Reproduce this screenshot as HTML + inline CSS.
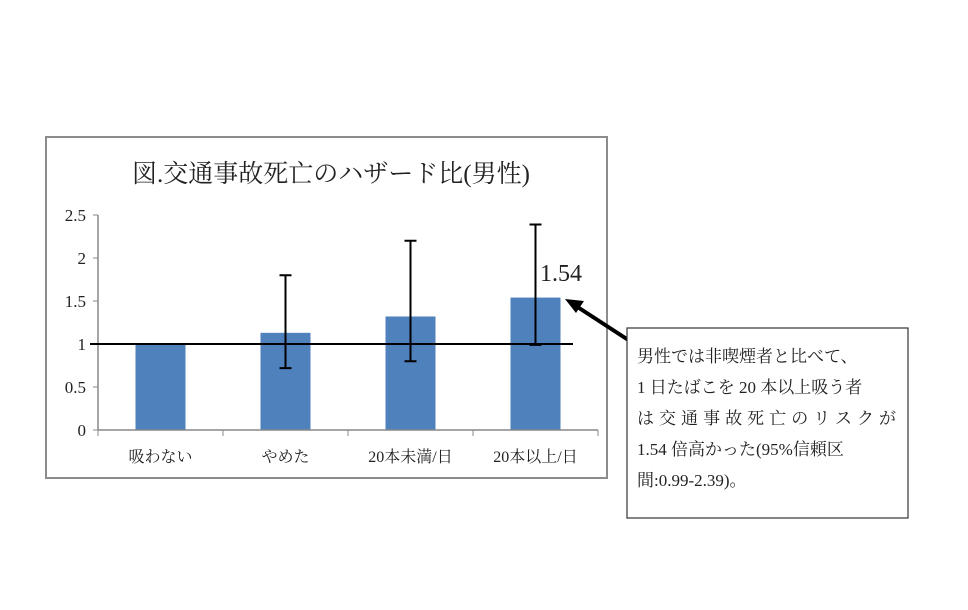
<!DOCTYPE html>
<html><head><meta charset="utf-8"><style>
body{margin:0;background:#fff;width:968px;height:605px;overflow:hidden}
svg text{font-family:"Liberation Serif","Noto Serif CJK SC","Noto Sans CJK JP",serif;fill:#222}
</style></head><body>
<svg width="968" height="605">
<rect x="46" y="137" width="561" height="341" fill="#fff" stroke="#8c8c8c" stroke-width="2"/>
<text x="331" y="182" font-size="25" text-anchor="middle">図.交通事故死亡のハザード比(男性)</text>
<g id="plot"></g>
<text x="540" y="281" font-size="24">1.54</text>
<line x1="636" y1="345" x2="576" y2="306" stroke="#000" stroke-width="4"/>
<polygon points="565,299 584,301 576,313" fill="#000"/>
<rect x="627" y="328" width="281" height="190" fill="#fff" stroke="#333" stroke-width="1.2"/>
<g font-size="17">
<text x="637" y="362">男性では非喫煙者と比べて、</text>
<text x="637" y="393">1 日たばこを 20 本以上吸う者</text>
<text x="637" y="424" textLength="259">は交通事故死亡のリスクが</text>
<text x="637" y="455">1.54  倍高かった(95%信頼区</text>
<text x="637" y="486">間:0.99-2.39)。</text>
</g>
</svg>
<script>
const categories=["吸わない","やめた","20本未満/日","20本以上/日"];
const values=[1,1.13,1.32,1.54];
const errLow=[null,0.72,0.80,0.99];
const errHigh=[null,1.80,2.20,2.39];
const yTicks=[0,0.5,1,1.5,2,2.5];
const refValue=1;
const X0=98,X1=598,Y0=430,YTOP=215,YMAX=2.5;
const y=v=>Y0-(v/YMAX)*(Y0-YTOP);
const bw=(X1-X0)/categories.length;
const xc=i=>X0+bw*(i+0.5);
const g=document.getElementById('plot');
const NS="http://www.w3.org/2000/svg";
function mk(t,a){const e=document.createElementNS(NS,t);for(const k in a)e.setAttribute(k,a[k]);g.appendChild(e);return e;}
values.forEach((v,i)=>{
 const r=mk('rect',{x:xc(i)-25,y:y(v),width:50,height:Y0-y(v),fill:'#4f81bd'});
 
 
});
let ax=mk('line',{x1:X0,y1:YTOP,x2:X0,y2:Y0,stroke:'#888','stroke-width':1.5});


let bx=mk('line',{x1:X0,y1:Y0,x2:X1,y2:Y0,stroke:'#888','stroke-width':1.5});


yTicks.forEach(t=>{
 const l=mk('line',{x1:X0-5,y1:y(t),x2:X0,y2:y(t),stroke:'#888'});
 
 
 const tx=mk('text',{x:X0-12,y:y(t)+6,'font-size':17,'text-anchor':'end'});tx.textContent=t;
 
 
});
for(let i=0;i<=categories.length;i++){
 const l=mk('line',{x1:X0+bw*i,y1:Y0,x2:X0+bw*i,y2:Y0+6,stroke:'#888'});
 
 
}
categories.forEach((c,i)=>{
 const tx=mk('text',{x:xc(i),y:Y0+32,'font-size':16,'text-anchor':'middle'});tx.textContent=c;
 
 
});
const ref=mk('line',{x1:X0-8,y1:y(refValue),x2:X1-25,y2:y(refValue),stroke:'#000','stroke-width':2});


values.forEach((v,i)=>{
 if(errLow[i]==null)return;
 const x=xc(i);
 const p=mk('path',{d:`M${x},${y(errHigh[i])}V${y(errLow[i])}M${x-6},${y(errHigh[i])}h12M${x-6},${y(errLow[i])}h12`,stroke:'#000','stroke-width':2,fill:'none'});
 
 
});
</script>
</body></html>
